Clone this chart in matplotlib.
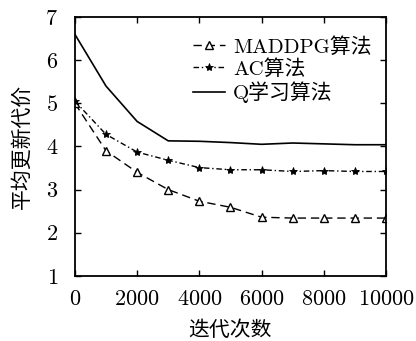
import matplotlib
matplotlib.use("Agg")
import matplotlib.pyplot as plt

plt.rcParams['font.family'] = ['cmr10', 'Noto Sans CJK SC']
plt.rcParams['axes.formatter.use_mathtext'] = True
plt.rcParams['mathtext.fontset'] = 'cm'

# iterations
iters = [0, 1000, 2000, 3000, 4000, 5000, 6000, 7000, 8000, 9000, 10000]
# average update cost per algorithm
maddpg = [5.0, 3.9, 3.4, 3.0, 2.73, 2.59, 2.36, 2.34, 2.34, 2.34, 2.34]
ac = [5.05, 4.28, 3.87, 3.68, 3.51, 3.46, 3.46, 3.42, 3.44, 3.42, 3.42]
qlearn = [6.6, 5.4, 4.58, 4.13, 4.12, 4.09, 4.05, 4.08, 4.06, 4.04, 4.04]

labels = ["MADDPG算法", "AC算法", "Q学习算法"]
xticks = [0, 2000, 4000, 6000, 8000, 10000]
yticks = [1, 2, 3, 4, 5, 6, 7]

fig = plt.figure(figsize=(4.16, 3.41), dpi=100)
ax = fig.add_axes([0.180, 0.191, 0.748, 0.759])

ax.plot(iters, maddpg, color="black", lw=1.0, dashes=(6, 3.5),
        marker="^", markersize=5.5, markerfacecolor="white",
        markeredgecolor="black", markeredgewidth=1.0, label=labels[0])
ax.plot(iters, ac, color="black", lw=1.0, dashes=(4, 2, 1, 2),
        marker="*", markersize=6, markerfacecolor="black",
        markeredgecolor="black", markeredgewidth=0.6, label=labels[1])
ax.plot(iters, qlearn, color="black", lw=1.2, label=labels[2])

ax.set_xlim(0, 10000)
ax.set_ylim(1, 7)
ax.set_xticks(xticks)
ax.set_yticks(yticks)
ax.tick_params(direction="in", top=True, right=True, length=4, width=1.0,
               labelsize=16)
ax.tick_params(axis="y", pad=12)
ax.tick_params(axis="x", pad=10)
for s in ax.spines.values():
    s.set_linewidth(1.3)

ax.set_xlabel("迭代次数", fontsize=15, labelpad=8)
ax.set_ylabel("平均更新代价", fontsize=15, labelpad=10)

leg = ax.legend(loc="upper right", frameon=False, fontsize=15,
                handlelength=1.5, handletextpad=0.4, labelspacing=0.12,
                borderaxespad=0.3, bbox_to_anchor=(1.0, 0.98))

fig.savefig("out.png", dpi=100)
